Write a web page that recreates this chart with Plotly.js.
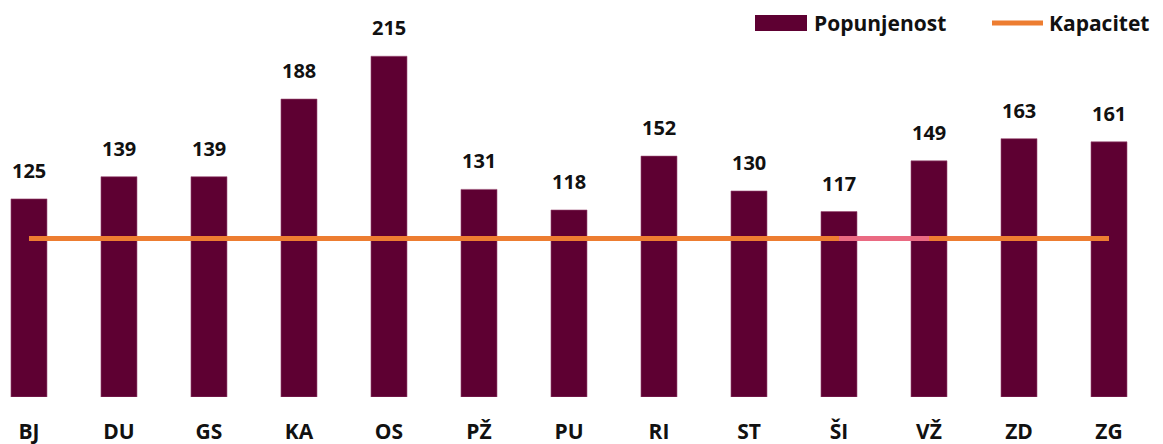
<!DOCTYPE html>
<html><head><meta charset="utf-8">
<script src="https://cdn.plot.ly/plotly-3.0.1.min.js"></script>
<style>html,body{margin:0;padding:0;background:#fff}#chart{width:1163px;height:444px}</style>
</head><body><div id="chart"></div>
<script>
const categories = ['BJ','DU','GS','KA','OS','PŽ','PU','RI','ST','ŠI','VŽ','ZD','ZG'];
const popunjenost = [125,139,139,188,215,131,118,152,130,117,149,163,161];
const kapacitet = [100,100,100,100,100,100,100,100,100,100,100,100,100];
const highlightCats = ['ŠI','VŽ'];
const highlightVals = [100,100];
const seriesNames = ['Popunjenost','Kapacitet'];

const FONT = 'Open Sans, Liberation Sans, sans-serif';
const BAR = '#5E0032', ORANGE = '#ED7D31', PINK = '#EA6A82';
const traces = [
  {type:'bar', name:seriesNames[0], x:categories, y:popunjenost, showlegend:false,
   marker:{color:BAR, line:{color:'#9A4A72', width:0.6}}, hoverinfo:'x+y'},
  {type:'scatter', mode:'lines', name:seriesNames[1], x:categories, y:kapacitet, showlegend:false,
   line:{color:ORANGE, width:5}},
  {type:'scatter', mode:'lines', name:seriesNames[1], showlegend:false, x:highlightCats, y:highlightVals,
   line:{color:PINK, width:5}}
];
const annotations = categories.map((c,i)=>({
  x:c, y:popunjenost[i], xref:'x', yref:'y', text:String(popunjenost[i]),
  showarrow:false, yanchor:'bottom', yshift:13,
  font:{family:FONT, size:20, color:'#111', weight:700}
}));
// custom legend (wide swatches like the reference)
const W = 1163, PH = 397;
const px = v => v / W, py = v => (PH - v) / PH;
annotations.push(
  {xref:'paper', yref:'paper', x:px(812), y:py(23), xanchor:'left', yanchor:'middle', showarrow:false,
   text:seriesNames[0], font:{family:FONT, size:21, color:'#111', weight:700}},
  {xref:'paper', yref:'paper', x:px(1047), y:py(23), xanchor:'left', yanchor:'middle', showarrow:false,
   text:seriesNames[1], font:{family:FONT, size:21, color:'#111', weight:700}}
);
const shapes = [
  {type:'rect', xref:'paper', yref:'paper', x0:px(755), x1:px(807), y0:py(31), y1:py(15),
   fillcolor:BAR, line:{width:0}},
  {type:'line', xref:'paper', yref:'paper', x0:px(992), x1:px(1043), y0:py(23), y1:py(23),
   line:{color:ORANGE, width:5}}
];
const layout = {
  width:1163, height:444,
  margin:{l:0, r:0, t:0, b:47},
  paper_bgcolor:'#fff', plot_bgcolor:'#fff',
  bargap:0.6,
  showlegend:false,
  xaxis:{type:'category', range:[-0.322,12.6], showgrid:false, zeroline:false, showline:false,
    ticks:'', ticklabelstandoff:20,
    tickfont:{family:FONT, size:21, color:'#111', weight:700}},
  yaxis:{range:[0,250.5], showgrid:false, zeroline:false, showline:false, showticklabels:false, ticks:''},
  annotations:annotations, shapes:shapes
};
Plotly.newPlot('chart', traces, layout, {displayModeBar:false, staticPlot:true});
</script></body></html>
